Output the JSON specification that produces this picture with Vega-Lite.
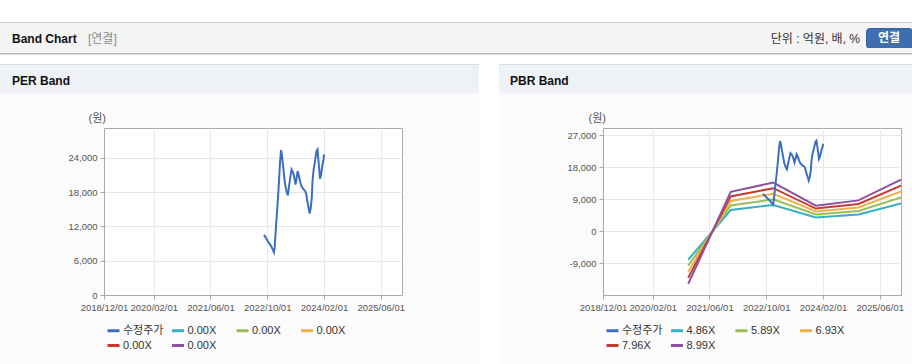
{
  "$schema": "https://vega.github.io/schema/vega-lite/v6.json",
  "padding": 0,
  "background": "#fbfbfb",
  "spacing": 0,
  "resolve": {"scale": {"color": "independent"}},
  "config": {
    "view": {"stroke": null},
    "font": "Liberation Sans, Noto Sans CJK KR",
    "title": {"anchor": "start", "frame": "group", "font": "Liberation Sans, Noto Sans CJK KR", "fontSize": 12},
    "axis": {
      "labelFont": "Liberation Sans, Noto Sans CJK KR",
      "labelFontSize": 9.5,
      "labelColor": "#555555",
      "domainColor": "#aaaaaa",
      "tickColor": "#aaaaaa",
      "tickSize": 4,
      "gridColor": "#e8e8e8",
      "labelPadding": 3,
      "titleFont": "Liberation Sans, Noto Sans CJK KR",
      "titleFontWeight": "normal",
      "titleFontSize": 11,
      "titleColor": "#555555",
      "labelFlush": false,
      "labelOverlap": false
    },
    "legend": {
      "labelFont": "Liberation Sans, Noto Sans CJK KR",
      "labelFontSize": 11,
      "labelColor": "#333333",
      "symbolType": "stroke",
      "symbolStrokeWidth": 3,
      "symbolSize": 144,
      "columnPadding": 1.5,
      "rowPadding": 1,
      "gridAlign": "all",
      "labelOffset": 2
    }
  },
  "datasets": {
    "empty": [],
    "price": [
      {"date": "2022/09/04", "series": "수정주가", "value": 10550},
      {"date": "2022/10/07", "series": "수정주가", "value": 9390},
      {"date": "2022/11/01", "series": "수정주가", "value": 8640},
      {"date": "2022/11/19", "series": "수정주가", "value": 7940},
      {"date": "2022/11/28", "series": "수정주가", "value": 7460},
      {"date": "2022/12/04", "series": "수정주가", "value": 8230},
      {"date": "2022/12/16", "series": "수정주가", "value": 12020},
      {"date": "2022/12/28", "series": "수정주가", "value": 15520},
      {"date": "2023/01/10", "series": "수정주가", "value": 19620},
      {"date": "2023/01/19", "series": "수정주가", "value": 23130},
      {"date": "2023/01/28", "series": "수정주가", "value": 25330},
      {"date": "2023/02/04", "series": "수정주가", "value": 24580},
      {"date": "2023/02/10", "series": "수정주가", "value": 23410},
      {"date": "2023/02/21", "series": "수정주가", "value": 21370},
      {"date": "2023/03/04", "series": "수정주가", "value": 19320},
      {"date": "2023/03/19", "series": "수정주가", "value": 17870},
      {"date": "2023/03/28", "series": "수정주가", "value": 17400},
      {"date": "2023/04/07", "series": "수정주가", "value": 19030},
      {"date": "2023/04/19", "series": "수정주가", "value": 20780},
      {"date": "2023/04/28", "series": "수정주가", "value": 21950},
      {"date": "2023/05/13", "series": "수정주가", "value": 21370},
      {"date": "2023/05/25", "series": "수정주가", "value": 20200},
      {"date": "2023/06/01", "series": "수정주가", "value": 19320},
      {"date": "2023/06/10", "series": "수정주가", "value": 20320},
      {"date": "2023/06/19", "series": "수정주가", "value": 21660},
      {"date": "2023/06/28", "series": "수정주가", "value": 21080},
      {"date": "2023/07/10", "series": "수정주가", "value": 19900},
      {"date": "2023/07/22", "series": "수정주가", "value": 19030},
      {"date": "2023/08/10", "series": "수정주가", "value": 18450},
      {"date": "2023/08/25", "series": "수정주가", "value": 18150},
      {"date": "2023/09/04", "series": "수정주가", "value": 17270},
      {"date": "2023/09/13", "series": "수정주가", "value": 16110},
      {"date": "2023/09/22", "series": "수정주가", "value": 15240},
      {"date": "2023/10/01", "series": "수정주가", "value": 14240},
      {"date": "2023/10/10", "series": "수정주가", "value": 15240},
      {"date": "2023/10/19", "series": "수정주가", "value": 16990},
      {"date": "2023/10/25", "series": "수정주가", "value": 19900},
      {"date": "2023/11/04", "series": "수정주가", "value": 21950},
      {"date": "2023/11/16", "series": "수정주가", "value": 23410},
      {"date": "2023/11/28", "series": "수정주가", "value": 25160},
      {"date": "2023/12/07", "series": "수정주가", "value": 25460},
      {"date": "2023/12/13", "series": "수정주가", "value": 24000},
      {"date": "2023/12/22", "series": "수정주가", "value": 21950},
      {"date": "2023/12/28", "series": "수정주가", "value": 20320},
      {"date": "2024/01/07", "series": "수정주가", "value": 21080},
      {"date": "2024/01/19", "series": "수정주가", "value": 22830},
      {"date": "2024/01/28", "series": "수정주가", "value": 23710},
      {"date": "2024/02/01", "series": "수정주가", "value": 24580}
    ],
    "pbr": [
      {"date": "2020/12/01", "series": "4.86X", "value": -7995},
      {"date": "2021/12/01", "series": "4.86X", "value": 5978},
      {"date": "2022/12/01", "series": "4.86X", "value": 7387},
      {"date": "2023/12/01", "series": "4.86X", "value": 3888},
      {"date": "2024/12/01", "series": "4.86X", "value": 4690},
      {"date": "2025/12/01", "series": "4.86X", "value": 7834},
      {"date": "2020/12/01", "series": "5.89X", "value": -9689},
      {"date": "2021/12/01", "series": "5.89X", "value": 7245},
      {"date": "2022/12/01", "series": "5.89X", "value": 8953},
      {"date": "2023/12/01", "series": "5.89X", "value": 4712},
      {"date": "2024/12/01", "series": "5.89X", "value": 5684},
      {"date": "2025/12/01", "series": "5.89X", "value": 9495},
      {"date": "2020/12/01", "series": "6.93X", "value": -11400},
      {"date": "2021/12/01", "series": "6.93X", "value": 8524},
      {"date": "2022/12/01", "series": "6.93X", "value": 10534},
      {"date": "2023/12/01", "series": "6.93X", "value": 5544},
      {"date": "2024/12/01", "series": "6.93X", "value": 6687},
      {"date": "2025/12/01", "series": "6.93X", "value": 11171},
      {"date": "2020/12/01", "series": "7.96X", "value": -13094},
      {"date": "2021/12/01", "series": "7.96X", "value": 9791},
      {"date": "2022/12/01", "series": "7.96X", "value": 12099},
      {"date": "2023/12/01", "series": "7.96X", "value": 6368},
      {"date": "2024/12/01", "series": "7.96X", "value": 7681},
      {"date": "2025/12/01", "series": "7.96X", "value": 12832},
      {"date": "2020/12/01", "series": "8.99X", "value": -14789},
      {"date": "2021/12/01", "series": "8.99X", "value": 11058},
      {"date": "2022/12/01", "series": "8.99X", "value": 13665},
      {"date": "2023/12/01", "series": "8.99X", "value": 7192},
      {"date": "2024/12/01", "series": "8.99X", "value": 8675},
      {"date": "2025/12/01", "series": "8.99X", "value": 14492}
    ]
  },
  "vconcat": [
    {"data": {"name": "empty"}, "mark": "point", "width": 912, "height": 22, "view": {"fill": "#ffffff", "stroke": null}},
    {"data": {"name": "empty"}, "mark": "point", "width": 912, "height": 1, "view": {"fill": "#cccccc", "stroke": null}},
    {
      "columns": 4,
      "align": "each",
      "bounds": "flush",
      "spacing": 0,
      "concat": [
        {"data": {"name": "empty"}, "mark": "point", "width": 84, "height": 5, "view": {"fill": "#f4f4f4", "stroke": null}},
        {"data": {"name": "empty"}, "mark": "point", "width": 676, "height": 5, "view": {"fill": "#f4f4f4", "stroke": null}},
        {"data": {"name": "empty"}, "mark": "point", "width": 106, "height": 5, "view": {"fill": "#f4f4f4", "stroke": null}},
        {"data": {"name": "empty"}, "mark": "point", "width": 46, "height": 5, "view": {"fill": "#f4f4f4", "stroke": null}},
        {"data": {"name": "empty"}, "mark": "point", "width": 84, "height": 20, "view": {"fill": "#f4f4f4", "stroke": null},
         "title": {"text": "Band Chart", "offset": -18, "dx": 12, "fontWeight": "bold", "color": "#111111", "fontSize": 12}},
        {"data": {"name": "empty"}, "mark": "point", "width": 676, "height": 20, "view": {"fill": "#f4f4f4", "stroke": null},
         "title": {"text": "[연결]", "offset": -18, "dx": 4, "fontWeight": "normal", "color": "#8a8a8a", "fontSize": 12}},
        {"data": {"name": "empty"}, "mark": "point", "width": 106, "height": 20, "view": {"fill": "#f4f4f4", "stroke": null},
         "title": {"text": "단위 : 억원, 배, %", "anchor": "end", "offset": -18, "dx": -6, "fontWeight": "normal", "color": "#333333", "fontSize": 12}},
        {"data": {"name": "empty"}, "mark": "point", "width": 46, "height": 20, "view": {"fill": "#3f6eb0", "stroke": "#34609e", "cornerRadius": 3},
         "title": {"text": "연결", "anchor": "middle", "offset": -17, "color": "#ffffff", "fontWeight": "bold", "fontSize": 12}},
        {"data": {"name": "empty"}, "mark": "point", "width": 84, "height": 5, "view": {"fill": "#f4f4f4", "stroke": null}},
        {"data": {"name": "empty"}, "mark": "point", "width": 676, "height": 5, "view": {"fill": "#f4f4f4", "stroke": null}},
        {"data": {"name": "empty"}, "mark": "point", "width": 106, "height": 5, "view": {"fill": "#f4f4f4", "stroke": null}},
        {"data": {"name": "empty"}, "mark": "point", "width": 46, "height": 5, "view": {"fill": "#f4f4f4", "stroke": null}}
      ]
    },
    {"data": {"name": "empty"}, "mark": "point", "width": 912, "height": 1, "view": {"fill": "#b4b4b4", "stroke": null}},
    {"data": {"name": "empty"}, "mark": "point", "width": 912, "height": 1, "view": {"fill": "#e2e2e2", "stroke": null}},
    {"data": {"name": "empty"}, "mark": "point", "width": 912, "height": 9, "view": {"fill": "#ffffff", "stroke": null}},
    {
      "columns": 7,
      "align": "each",
      "bounds": "flush",
      "spacing": 0,
      "resolve": {"scale": {"color": "independent"}},
      "concat": [
        {"data": {"name": "empty"}, "mark": "point", "width": 104, "height": 1, "view": {"fill": "#d9dde2", "stroke": null}},
        {"data": {"name": "empty"}, "mark": "point", "width": 298, "height": 1, "view": {"fill": "#d9dde2", "stroke": null}},
        {"data": {"name": "empty"}, "mark": "point", "width": 77, "height": 1, "view": {"fill": "#d9dde2", "stroke": null}},
        {"data": {"name": "empty"}, "mark": "point", "width": 20, "height": 1, "view": {"fill": "#ffffff", "stroke": null}},
        {"data": {"name": "empty"}, "mark": "point", "width": 104, "height": 1, "view": {"fill": "#d9dde2", "stroke": null}},
        {"data": {"name": "empty"}, "mark": "point", "width": 298, "height": 1, "view": {"fill": "#d9dde2", "stroke": null}},
        {"data": {"name": "empty"}, "mark": "point", "width": 11, "height": 1, "view": {"fill": "#d9dde2", "stroke": null}},

        {"data": {"name": "empty"}, "mark": "point", "width": 104, "height": 28, "view": {"fill": "#eef2f7", "stroke": null},
         "title": {"text": "PER Band", "offset": -23, "dx": 12, "fontWeight": "bold", "color": "#111111", "fontSize": 12}},
        {"data": {"name": "empty"}, "mark": "point", "width": 298, "height": 28, "view": {"fill": "#eef2f7", "stroke": null}},
        {"data": {"name": "empty"}, "mark": "point", "width": 77, "height": 28, "view": {"fill": "#eef2f7", "stroke": null}},
        {"data": {"name": "empty"}, "mark": "point", "width": 20, "height": 28, "view": {"fill": "#ffffff", "stroke": null}},
        {"data": {"name": "empty"}, "mark": "point", "width": 104, "height": 28, "view": {"fill": "#eef2f7", "stroke": null},
         "title": {"text": "PBR Band", "offset": -23, "dx": 11, "fontWeight": "bold", "color": "#111111", "fontSize": 12}},
        {"data": {"name": "empty"}, "mark": "point", "width": 298, "height": 28, "view": {"fill": "#eef2f7", "stroke": null}},
        {"data": {"name": "empty"}, "mark": "point", "width": 11, "height": 28, "view": {"fill": "#eef2f7", "stroke": null}},

        {"data": {"name": "empty"}, "mark": "point", "width": 104, "height": 35, "view": {"stroke": null}},
        {"data": {"name": "empty"}, "mark": "point", "width": 298, "height": 35, "view": {"stroke": null}},
        {"data": {"name": "empty"}, "mark": "point", "width": 77, "height": 35, "view": {"stroke": null}},
        {"data": {"name": "empty"}, "mark": "point", "width": 20, "height": 35, "view": {"fill": "#ffffff", "stroke": null}},
        {"data": {"name": "empty"}, "mark": "point", "width": 104, "height": 35, "view": {"stroke": null}},
        {"data": {"name": "empty"}, "mark": "point", "width": 298, "height": 35, "view": {"stroke": null}},
        {"data": {"name": "empty"}, "mark": "point", "width": 11, "height": 35, "view": {"stroke": null}},

        {"data": {"name": "empty"}, "mark": "point", "width": 104, "height": 167, "view": {"stroke": null}},
        {
          "width": 298,
          "height": 167,
          "view": {"fill": "#ffffff", "stroke": "#aaaaaa"},
          "data": {"name": "price"},
          "mark": {"type": "line", "strokeWidth": 2, "clip": true},
          "encoding": {
            "x": {
              "field": "date", "type": "temporal",
              "scale": {"domain": [{"year": 2018, "month": 12, "date": 1}, {"year": 2025, "month": 12, "date": 1}]},
              "axis": {
                "title": null, "format": "%Y/%m/%d", "grid": true,
                "values": [
                  {"year": 2018, "month": 12, "date": 1},
                  {"year": 2020, "month": 2, "date": 1},
                  {"year": 2021, "month": 6, "date": 1},
                  {"year": 2022, "month": 10, "date": 1},
                  {"year": 2024, "month": 2, "date": 1},
                  {"year": 2025, "month": 6, "date": 1}
                ]
              }
            },
            "y": {
              "field": "value", "type": "quantitative",
              "scale": {"domain": [0, 29200], "nice": false, "zero": false},
              "axis": {
                "values": [0, 6000, 12000, 18000, 24000], "format": ",d", "grid": true,
                "title": "(원)", "titleAngle": 0, "titleAlign": "left", "titleBaseline": "middle", "titleX": -16, "titleY": -10
              }
            },
            "color": {
              "field": "series", "type": "nominal",
              "scale": {
                "domain": ["수정주가", "0.00X (1)", "0.00X (2)", "0.00X (3)", "0.00X (4)", "0.00X (5)"],
                "range": ["#3d6fc0", "#35b0c2", "#9cbb5a", "#f0b04a", "#c53b2f", "#8c52a0"]
              },
              "legend": {"orient": "none", "direction": "horizontal", "legendX": 2, "legendY": 195, "columns": 4, "title": null, "labelExpr": "slice(datum.label, 0, 5)"}
            }
          }
        },
        {"data": {"name": "empty"}, "mark": "point", "width": 77, "height": 167, "view": {"stroke": null}},
        {"data": {"name": "empty"}, "mark": "point", "width": 20, "height": 167, "view": {"fill": "#ffffff", "stroke": null}},
        {"data": {"name": "empty"}, "mark": "point", "width": 104, "height": 167, "view": {"stroke": null}},
        {
          "width": 298,
          "height": 167,
          "view": {"fill": "#ffffff", "stroke": "#aaaaaa"},
          "encoding": {
            "x": {
              "field": "date", "type": "temporal",
              "scale": {"domain": [{"year": 2018, "month": 12, "date": 1}, {"year": 2025, "month": 12, "date": 1}]},
              "axis": {
                "title": null, "format": "%Y/%m/%d", "grid": true,
                "values": [
                  {"year": 2018, "month": 12, "date": 1},
                  {"year": 2020, "month": 2, "date": 1},
                  {"year": 2021, "month": 6, "date": 1},
                  {"year": 2022, "month": 10, "date": 1},
                  {"year": 2024, "month": 2, "date": 1},
                  {"year": 2025, "month": 6, "date": 1}
                ]
              }
            },
            "y": {
              "field": "value", "type": "quantitative",
              "scale": {"domain": [-17900, 29000], "nice": false, "zero": false},
              "axis": {
                "values": [-9000, 0, 9000, 18000, 27000], "format": ",d", "grid": true,
                "labelExpr": "replace(datum.label, '\u2212', '-')",
                "title": "(원)", "titleAngle": 0, "titleAlign": "left", "titleBaseline": "middle", "titleX": -15, "titleY": -10
              }
            },
            "color": {
              "field": "series", "type": "nominal",
              "scale": {
                "domain": ["수정주가", "4.86X", "5.89X", "6.93X", "7.96X", "8.99X"],
                "range": ["#3d6fc0", "#35b0c2", "#9cbb5a", "#f0b04a", "#c53b2f", "#8c52a0"]
              },
              "legend": {"orient": "none", "direction": "horizontal", "legendX": 2, "legendY": 195, "columns": 4, "title": null}
            }
          },
          "layer": [
            {"data": {"name": "pbr"}, "mark": {"type": "line", "strokeWidth": 2, "clip": true}},
            {"data": {"name": "price"}, "mark": {"type": "line", "strokeWidth": 2, "clip": true}}
          ]
        },
        {"data": {"name": "empty"}, "mark": "point", "width": 11, "height": 167, "view": {"stroke": null}},

        {"data": {"name": "empty"}, "mark": "point", "width": 104, "height": 69, "view": {"stroke": null}},
        {"data": {"name": "empty"}, "mark": "point", "width": 298, "height": 69, "view": {"stroke": null}},
        {"data": {"name": "empty"}, "mark": "point", "width": 77, "height": 69, "view": {"stroke": null}},
        {"data": {"name": "empty"}, "mark": "point", "width": 20, "height": 69, "view": {"fill": "#ffffff", "stroke": null}},
        {"data": {"name": "empty"}, "mark": "point", "width": 104, "height": 69, "view": {"stroke": null}},
        {"data": {"name": "empty"}, "mark": "point", "width": 298, "height": 69, "view": {"stroke": null}},
        {"data": {"name": "empty"}, "mark": "point", "width": 11, "height": 69, "view": {"stroke": null}}
      ]
    }
  ]
}
